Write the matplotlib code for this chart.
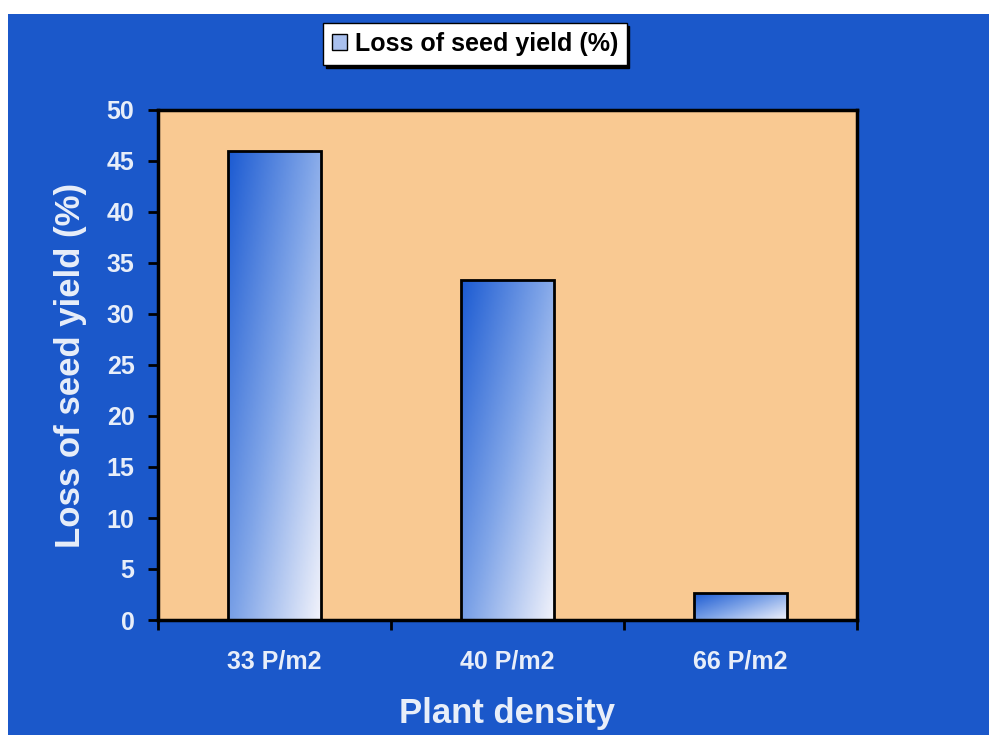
import numpy as np
import matplotlib
matplotlib.use("Agg")
import matplotlib.pyplot as plt
from matplotlib.patches import Rectangle, Patch
from matplotlib.colors import LinearSegmentedColormap

plt.rcParams['font.family'] = ['Liberation Sans', 'DejaVu Sans']

# data
densities = ["33 P/m2", "40 P/m2", "66 P/m2"]
seed_loss = [46, 33.3, 2.6]
y_ticks = [0, 5, 10, 15, 20, 25, 30, 35, 40, 45, 50]

bg_blue = "#1b58ca"
peach = "#f9c992"
light = "#e8eef9"
grad = LinearSegmentedColormap.from_list("bargrad", ["#1c5bd2", "#80a5e8", "#f2f3fb"])

fig = plt.figure(figsize=(9.89, 7.39), dpi=100)
fig.patch.set_facecolor("white")
# blue slide background
fig.patches.append(Rectangle((8 / 989, 1 - 735 / 739), 981 / 989, 721 / 739,
                             transform=fig.transFigure, facecolor=bg_blue,
                             edgecolor="none", zorder=-10))

ax = fig.add_axes([158 / 989, 1 - 620 / 739, 699 / 989, 510 / 739])
ax.set_facecolor(peach)

x = np.arange(len(densities))
bars = ax.bar(x, seed_loss, width=0.4, facecolor="none", edgecolor="black",
              linewidth=2, zorder=3)

# diagonal gradient inside each bar: dark top-left, light bottom-right
gx, gy = np.meshgrid(np.linspace(0, 1, 60), np.linspace(0, 1, 200))
for b in bars:
    h = b.get_height()
    g = 0.55 * gx + 0.45 * gy
    im = ax.imshow(g, cmap=grad, origin="upper", aspect="auto",
                   extent=[b.get_x(), b.get_x() + b.get_width(), 0, h],
                   zorder=2, vmin=0, vmax=1)
    im.set_clip_path(b)

ax.set_xlim(-0.5, 2.5)
ax.set_ylim(0, 50)
ax.set_yticks(y_ticks)
ax.set_xticks(x)
ax.set_xticklabels(densities)
ax.set_xticks([-0.5, 0.5, 1.5, 2.5], minor=True)
ax.tick_params(axis="x", which="major", length=0, pad=21, labelsize=18, labelcolor=light)
ax.tick_params(axis="x", which="minor", length=7, width=2, color="black", direction="out")
ax.tick_params(axis="y", length=7, width=2, color="black", direction="out",
               labelsize=18, labelcolor=light, pad=10)
for lab in ax.get_xticklabels() + ax.get_yticklabels():
    lab.set_fontweight("bold")
for s in ax.spines.values():
    s.set_linewidth(2.5)
    s.set_color("black")

ax.set_ylabel("Loss of seed yield (%)", fontsize=25, fontweight="bold", color=light, labelpad=14)
ax.set_xlabel("Plant density", fontsize=25, fontweight="bold", color=light, labelpad=17)

handle = Patch(facecolor="#a9c0ee", edgecolor="black", linewidth=1)
leg = fig.legend([handle], ["Loss of seed yield (%)"], loc="center",
                 bbox_to_anchor=(475 / 989, 1 - 44 / 739), fancybox=False,
                 shadow={"color": "black", "alpha": 1}, framealpha=1,
                 edgecolor="black", handlelength=0.6, handleheight=0.6,
                 handletextpad=0.3, borderpad=0.35,
                 prop={"weight": "bold", "size": 18})
leg.get_frame().set_linewidth(1)

fig.savefig("out.png", dpi=100, facecolor=fig.get_facecolor())
